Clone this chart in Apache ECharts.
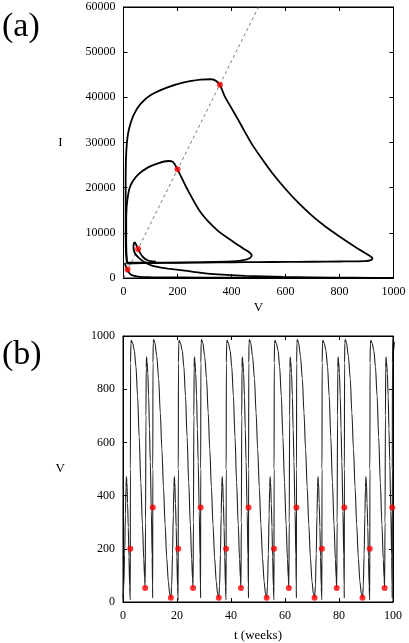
<!DOCTYPE html>
<html>
<head>
<meta charset="utf-8">
<script src="https://cdn.jsdelivr.net/npm/echarts@6/dist/echarts.min.js"></script>
<style>
html, body { margin: 0; padding: 0; background: #fff; }
#chart { width: 409px; height: 643px; }
</style>
</head>
<body>
<div id="chart"></div>
<script>
// ---- (a) phase plane, V against I ----
const largeLoop = [
    [14, 3200], [9, 6000], [8, 12000], [8, 20000], [9, 26000], [12, 29500], [17, 32000], [26, 34200],
    [39, 36300], [64, 38600], [101, 40500], [163, 42200], [224, 43300], [286, 43900], [323, 44000],
    [341, 43700], [357, 42760], [375, 40200], [400, 37600], [425, 35000], [450, 32300], [475, 29700],
    [510, 26600], [550, 23300], [600, 19700], [650, 16500], [700, 13700], [750, 11300], [800, 9200],
    [850, 7200], [890, 5700], [912, 4900], [922, 4400], [916, 3950], [895, 3750], [800, 3650],
    [700, 3600], [600, 3560], [500, 3520], [400, 3480], [300, 3430], [200, 3380], [100, 3320],
    [40, 3260], [14, 3200],
];
const mediumLoop = [
    [12, 3400], [10, 8000], [10, 13000], [12, 16000], [16, 18000], [22, 19800], [33, 21300], [54, 22900],
    [91, 24500], [128, 25400], [165, 25900], [183, 25700], [200, 24050], [236, 19700], [286, 14500],
    [347, 10600], [409, 7900], [445, 6500], [468, 5600], [475, 5000], [465, 4300], [440, 3900],
    [400, 3650], [300, 3500], [200, 3420], [100, 3380], [40, 3400], [12, 3400],
];
const smallHookRight = [
    [41, 8000], [46, 7500], [54, 6400], [63, 5400], [72, 4650], [85, 4050], [100, 3750], [120, 3600],
];
const smallHookLeft = [
    [41, 8000], [38, 7500], [37, 6700], [40, 5800], [48, 5000], [60, 4300], [75, 3600], [103, 2800],
    [140, 2300], [165, 2080], [227, 1650], [288, 1150], [350, 800], [450, 480], [590, 230],
    [700, 130], [850, 60], [1000, 25],
];
const bottomCurve = [
    [5, 3300], [8, 2700], [14, 2000], [19, 1300], [27, 800], [40, 450], [60, 270], [100, 170],
    [200, 110], [400, 60], [600, 35], [800, 18], [1000, 8],
];
const dashedLine = [[0, 0], [500, 60000]];
const dotsA = [[357, 42760], [200, 24050], [54, 6400], [15, 1900]];

// ---- (b) V against time ----
// start of each cycle (the V ~ 16 minimum)
const cycleStarts = [0, 17.74, 35.48, 53.22, 70.96, 88.7];
// one cycle: [weeks since cycle start, V]
const cycleShape = [
    [0.0, 16], [0.3, 60], [0.6, 180], [0.9, 330], [1.1, 430], [1.26, 472], [1.45, 450], [1.7, 370],
    [1.96, 281], [2.2, 170], [2.46, 59], [2.64, 15], [2.7, 8],
    [2.74, 500], [2.8, 900], [2.92, 972], [3.07, 984], [3.6, 972], [4.2, 945], [4.8, 885], [5.4, 775],
    [6.0, 620], [6.6, 450], [7.2, 290], [7.7, 160], [8.0, 90], [8.2, 53],
    [8.35, 300], [8.5, 700], [8.6, 880], [8.7, 922], [8.9, 905], [9.2, 860], [9.5, 774], [9.8, 650],
    [10.1, 528], [10.5, 340], [10.8, 170], [10.95, 60], [11.0, 15],
    [11.04, 500], [11.1, 900], [11.2, 975], [11.35, 987], [11.8, 975], [12.5, 925], [13.2, 840],
    [13.8, 713], [14.4, 575], [15.0, 430], [15.6, 290], [16.2, 165], [16.8, 75], [17.3, 30],
];
const dotsB = [
    [2.7, 200], [20.44, 200], [38.18, 200], [55.92, 200], [73.66, 200], [91.4, 200],
    [8.2, 53], [25.94, 53], [43.68, 53], [61.42, 53], [79.16, 53], [96.9, 53],
    [11.02, 355], [28.76, 355], [46.5, 355], [64.24, 355], [81.98, 355], [99.72, 355],
    [17.74, 16], [35.48, 16], [53.22, 16], [70.96, 16], [88.7, 16],
];

const serif = "'Liberation Serif', 'Times New Roman', serif";

const timeSeries = [];
cycleStarts.forEach(t0 => {
    cycleShape.forEach(([dt, v]) => timeSeries.push([+(t0 + dt).toFixed(3), v]));
});

const axisBase = extra => Object.assign({
    axisLine: { show: true, onZero: false, lineStyle: { color: "#000", width: 1 } },
    axisTick: { show: true, inside: true, length: 4, lineStyle: { color: "#000" } },
    axisLabel: { color: "#000", fontFamily: serif, fontSize: 12, margin: 8, formatter: v => String(v) },
    splitLine: { show: false },
    nameTextStyle: { color: "#000", fontFamily: serif, fontSize: 13 },
}, extra);

const mirror = (gridIndex, position, min, max, interval) => axisBase({
    gridIndex, position, min, max, interval, type: "value",
    axisLabel: { show: false },
});

const curve = (data, width) => ({
    type: "line",
    xAxisIndex: 0,
    yAxisIndex: 0,
    data,
    showSymbol: false,
    smooth: 0.25,
    lineStyle: { color: "#000", width },
    silent: true,
    z: 3,
});

const chart = echarts.init(document.getElementById("chart"), null, { renderer: "canvas" });
chart.setOption({
    backgroundColor: "#fff",
    animation: false,
    grid: [
        { left: 123.5, top: 7, width: 270, height: 271, show: true, borderColor: "#000", borderWidth: 1 },
        { left: 123, top: 336, width: 270, height: 270, show: true, borderColor: "#000", borderWidth: 1 },
    ],
    xAxis: [
        axisBase({
            gridIndex: 0, type: "value", min: 0, max: 1000, interval: 200,
            name: "V", nameLocation: "middle", nameGap: 23,
        }),
        axisBase({
            gridIndex: 1, type: "value", min: 0, max: 100, interval: 20,
            name: "t (weeks)", nameLocation: "middle", nameGap: 27,
        }),
        mirror(0, "top", 0, 1000, 200),
        mirror(1, "top", 0, 100, 20),
    ],
    yAxis: [
        axisBase({
            gridIndex: 0, type: "value", min: 0, max: 60000, interval: 10000,
            name: "I", nameLocation: "middle", nameGap: 61, nameRotate: 0,
        }),
        axisBase({
            gridIndex: 1, type: "value", min: 0, max: 1000, interval: 200,
            name: "V", nameLocation: "middle", nameGap: 58, nameRotate: 0,
        }),
        mirror(0, "right", 0, 60000, 10000),
        mirror(1, "right", 0, 1000, 200),
    ],
    graphic: [
        { type: "text", left: 2, top: 10, style: { text: "(a)", font: `34px ${serif}`, fill: "#000" } },
        { type: "text", left: 2, top: 338, style: { text: "(b)", font: `34px ${serif}`, fill: "#000" } },
    ],
    series: [
        {
            type: "line", xAxisIndex: 0, yAxisIndex: 0, data: dashedLine, showSymbol: false,
            lineStyle: { color: "#555", width: 0.8, type: [3, 3] }, silent: true, z: 2,
        },
        curve(largeLoop, 1.8),
        curve(mediumLoop, 1.8),
        curve(smallHookRight, 1.8),
        curve(smallHookLeft, 1.8),
        curve(bottomCurve, 1.8),
        {
            type: "scatter", xAxisIndex: 0, yAxisIndex: 0, data: dotsA, symbolSize: 6,
            itemStyle: { color: "#f00" }, silent: true, z: 5,
        },
        {
            type: "line", xAxisIndex: 1, yAxisIndex: 1, data: timeSeries, showSymbol: false,
            smooth: 0.3, smoothMonotone: "x",
            lineStyle: { color: "#222", width: 1.1 }, silent: true, z: 3,
        },
        {
            type: "scatter", xAxisIndex: 1, yAxisIndex: 1, data: dotsB, symbolSize: 6,
            itemStyle: { color: "#f00" }, silent: true, z: 5,
        },
    ],
});
</script>
</body>
</html>
